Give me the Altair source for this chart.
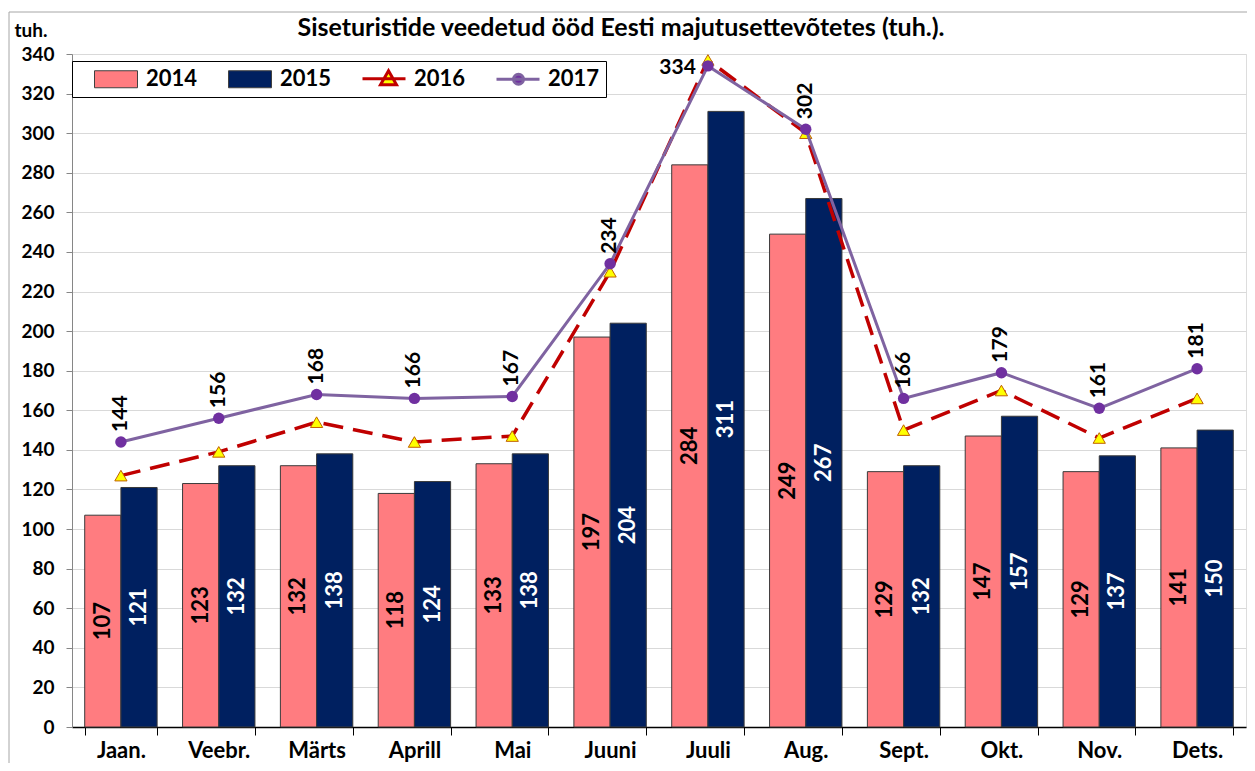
import altair as alt
import pandas as pd

months = ["Jaan.", "Veebr.", "Märts", "Aprill", "Mai", "Juuni",
          "Juuli", "Aug.", "Sept.", "Okt.", "Nov.", "Dets."]
y2014 = [107, 123, 132, 118, 133, 197, 284, 249, 129, 147, 129, 141]
y2015 = [121, 132, 138, 124, 138, 204, 311, 267, 132, 157, 137, 150]
y2016 = [127, 139, 154, 144, 147, 230, 337, 300, 150, 170, 146, 166]
y2017 = [144, 156, 168, 166, 167, 234, 334, 302, 166, 179, 161, 181]
series = ["2014", "2015", "2016", "2017"]
y_ticks = list(range(0, 341, 20))
title_text = ["Siseturistide veedetud ööd Eesti majutusettevõtetes (tuh.)."]

C14, C15, C16, C17, C17DOT, YEL = "#FF7C80", "#002060", "#C00000", "#7F63A1", "#7030A0", "#FFFF00"
FONT = "Lato"

rows = []
for s, vals in zip(series, [y2014, y2015, y2016, y2017]):
    for m, v in zip(months, vals):
        rows.append({"month": m, "series": s, "value": v})
df = pd.DataFrame(rows)

RECT = "M-1,-0.85H3.3V0.85H-1Z"
TRI = "M-1,0H3.3M1.6,-0.8L2.4,0.6L0.8,0.6Z"
CIRC = "M-1,0H3.3M1.7,0A0.5,0.5 0 1,1 0.7,0A0.5,0.5 0 1,1 1.7,0"


def sel(mapping, default):
    expr = repr(default) if not isinstance(default, str) else f"'{default}'"
    for k, v in reversed(list(mapping.items())):
        vv = f"'{v}'" if isinstance(v, str) else str(v)
        expr = f"(datum.value === '{k}' ? {vv} : {expr})"
    return alt.ExprRef(expr=expr)


legend = alt.Legend(
    title=None, orient="none", legendX=0, legendY=7, direction="horizontal",
    fillColor="white", strokeColor="black", padding=6,
    symbolSize=400, symbolOffset=15, labelOffset=30, columnPadding=14,
    labelFont=FONT, labelFontSize=22, labelFontWeight="bold", labelColor="black",
    symbolOpacity=1,
    symbolType=sel({"2014": RECT, "2015": RECT, "2016": TRI}, CIRC),
    symbolStrokeColor=sel({"2014": "#404040", "2015": "#404040", "2016": C16}, C17),
    symbolStrokeWidth=sel({"2014": 1, "2015": 1}, 3),
)

color_enc = alt.Color("series:N",
                      scale=alt.Scale(domain=series, range=[C14, C15, YEL, C17DOT]),
                      legend=legend)

xaxis = alt.Axis(title=None, labelAngle=0, labelFont=FONT, labelFontSize=22,
                 labelFontWeight="bold", labelColor="black", tickBand="extent",
                 tickSize=8, tickColor="black", domainColor="black", domainWidth=1.5,
                 labelPadding=5, grid=False)
x_enc = alt.X("month:N", sort=months,
              scale=alt.Scale(paddingInner=0.26, paddingOuter=0.13), axis=xaxis)

yaxis = alt.Axis(values=y_ticks, title="tuh.", titleAngle=0, titleAlign="left",
                 titleBaseline="middle", titleX=-58, titleY=-24, titleFont=FONT,
                 titleFontSize=19, titleFontWeight="bold", titleColor="black",
                 labelFont=FONT, labelFontSize=19, labelFontWeight="bold",
                 labelColor="black", labelPadding=12, tickSize=6, tickColor="#868686",
                 domainColor="#868686", gridColor="#D9D9D9", grid=True)
yscale = alt.Scale(domain=[0, 340], nice=False)


def y_enc(field):
    return alt.Y(field, scale=yscale, axis=yaxis)


xoff = alt.XOffset("series:N", scale=alt.Scale(domain=["2014", "2015"],
                                               paddingInner=0, paddingOuter=0))

base = alt.Chart(df)
bar_df = base.transform_filter(alt.FieldOneOfPredicate(field="series", oneOf=["2014", "2015"]))

bars = bar_df.mark_bar(stroke="#3A3A3A", strokeWidth=1).encode(
    x=x_enc, y=y_enc("value:Q"), xOffset=xoff, color=color_enc)

bar_labels = bar_df.transform_calculate(mid="datum.value / 2").mark_text(
    angle=270, align="center", baseline="middle", font=FONT, fontSize=22,
    fontWeight="bold").encode(
    x=x_enc, xOffset=xoff, y=y_enc("mid:Q"), text="value:Q",
    color=alt.condition(alt.datum.series == "2014", alt.value("black"), alt.value("white")))

s16 = base.transform_filter(alt.datum.series == "2016")
s17 = base.transform_filter(alt.datum.series == "2017")

line16 = s16.mark_line(strokeWidth=3.5, strokeDash=[20, 10], color=C16).encode(
    x=x_enc, y=y_enc("value:Q"))
pts16 = s16.mark_point(shape="triangle-up", filled=True, fill=YEL,
                       stroke="#C06000", strokeWidth=1, size=150, opacity=1).encode(
    x=x_enc, y=y_enc("value:Q"))

line17 = s17.mark_line(strokeWidth=3, color=C17).encode(
    x=x_enc, y=y_enc("value:Q"))
pts17 = s17.mark_circle(size=130, color=C17DOT, opacity=1).encode(
    x=x_enc, y=y_enc("value:Q"))

labels17 = s17.transform_filter(alt.datum.month != "Juuli").mark_text(
    angle=270, align="left", baseline="middle", dx=10, font=FONT, fontSize=21,
    fontWeight="bold", color="black").encode(x=x_enc, y=y_enc("value:Q"), text="value:Q")
label_peak = s17.transform_filter(alt.datum.month == "Juuli").mark_text(
    angle=0, align="right", baseline="middle", dx=-12, dy=2, font=FONT, fontSize=21,
    fontWeight="bold", color="black").encode(x=x_enc, y=y_enc("value:Q"), text="value:Q")

title_mark = alt.Chart(pd.DataFrame({"t": title_text})).mark_text(
    font=FONT, fontSize=25, fontWeight="bold", color="black", align="center",
    baseline="middle").encode(text="t:N", x=alt.value(549), y=alt.value(-26))

border_df = pd.DataFrame({"k": [0]})
top_border = alt.Chart(border_df).mark_rule(color="#A6A6A6", strokeWidth=1).encode(
    x=alt.value(-63), x2=alt.value(1180), y=alt.value(-42))
left_border = alt.Chart(border_df).mark_rule(color="#A6A6A6", strokeWidth=1).encode(
    x=alt.value(-63), y=alt.value(-42), y2=alt.value(720))

chart = alt.layer(
    top_border, left_border, title_mark, bars, bar_labels, line16, pts16, line17, pts17,
    labels17, label_peak,
).properties(
    width=1174, height=673,
    autosize=alt.AutoSizeParams(type="none"),
    padding={"left": 64, "top": 46, "right": 1, "bottom": 36},
).configure_view(stroke=None).configure(background="white")

chart.save("out.html", embed_options={"renderer": "svg", "actions": False})
